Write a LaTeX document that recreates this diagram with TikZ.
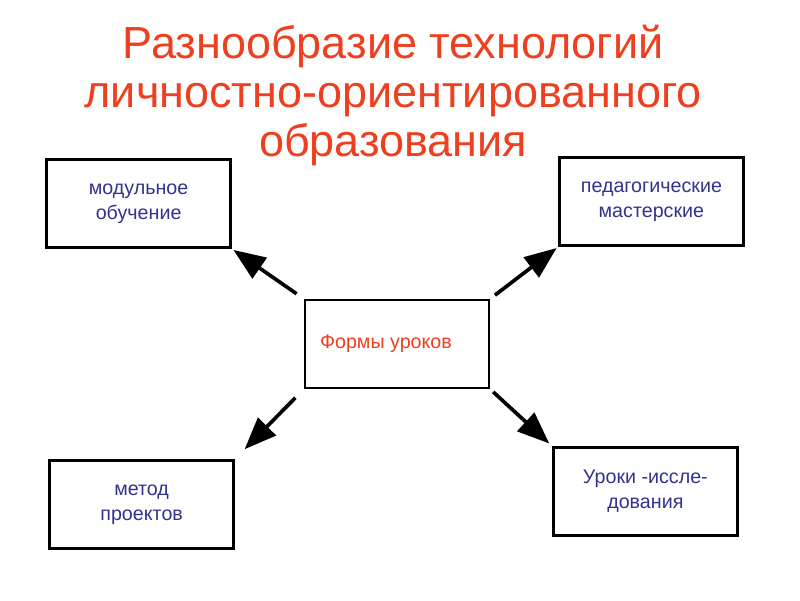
\documentclass[tikz,border=0pt]{standalone}
\usepackage{fontspec}
\setmainfont{Liberation Sans}
\usepackage{tikz}
\usetikzlibrary{arrows.meta,positioning}
\definecolor{TitleRed}{HTML}{EE4020}
\definecolor{TextBlue}{HTML}{33338F}

\begin{document}
\begin{tikzpicture}[
  box/.style={rectangle,draw=black,line width=1.7pt,fill=white,minimum width=4.6cm,minimum height=2.2cm,
              font=\fontsize{14}{18}\selectfont,text=TextBlue,align=center},
  link/.style={line width=2.6pt,draw=black,
               -{Triangle[length=0.8cm,width=0.62cm]}},
  node distance=1.25cm
]
\useasboundingbox (0,0) rectangle (20,-15);
\node[align=center,text=TitleRed,font=\fontsize{32}{35}\selectfont]
  (title) at (9.83,-2.38) {Разнообразие технологий\\личностно-ориентированного\\образования};
\node[box,text=TitleRed] (forms) at (9.925,-8.6) {\hspace*{-0.55cm}\raisebox{-0.12cm}{Формы уроков}};
\node[box,above left=1.25cm and 1.8cm of forms.north west,anchor=south east] (modular) {модульное\\обучение};
\node[box,above right=1.3cm and 1.7cm of forms.north east,anchor=south west] (workshops) {педагогические\\мастерские};
\node[box,below left=1.75cm and 1.725cm of forms.south west,anchor=north east] (projects) {метод\\проектов};
\node[box,below right=1.425cm and 1.55cm of forms.south east,anchor=north west] (research) {Уроки -иссле-\\дования};
% arrows from the centre
\draw[link,shorten <=0.22cm,shorten >=0.05cm] (forms.north west) -- (modular.south east);
\draw[link,shorten <=0.15cm,shorten >=0.05cm] (forms.north east) -- (workshops.south west);
\draw[link,shorten <=0.3cm,shorten >=0.35cm] (forms.south west) -- (projects.north east);
\draw[link,shorten <=0.1cm,shorten >=0.1cm] (forms.south east) -- (research.north west);
\end{tikzpicture}
\end{document}
